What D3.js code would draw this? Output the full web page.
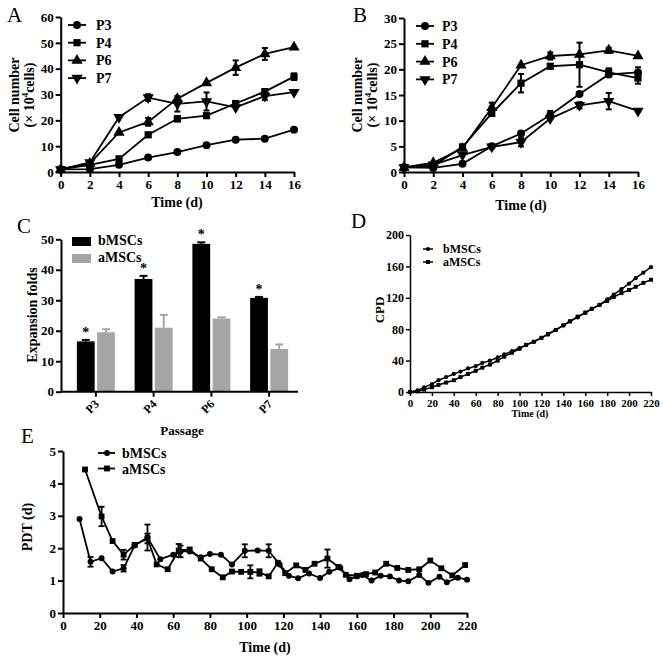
<!DOCTYPE html>
<html><head><meta charset="utf-8">
<script src="https://cdn.jsdelivr.net/npm/d3@7"></script>
<style>
body{margin:0;background:#fff;}
svg{display:block;}
text{font-family:"Liberation Serif","Times New Roman",serif;}
</style></head>
<body><svg id="c" width="663" height="669"></svg>
<script>
// ---------- DATA ----------
const timeAB = [0,2,4,6,8,10,12,14,16];
const seriesNames = ["P3","P4","P6","P7"];
// Panel A (cell number x10^4)
const aP3 = [1,1.1,2.8,5.6,7.7,10.4,12.5,12.9,16.4];
const aP4 = [1,2.8,5.1,14.4,20.6,21.8,26.5,31.1,36.9];
const aP6 = [1,3.3,15.3,19.4,28.4,34.5,40.4,45.7,48.3];
const aP7 = [1,3.7,21.2,28.8,26.4,27.3,25.0,29.4,30.9];
const aP3err = [0,0,0,0,0,0,0,0,0];
const aP4err = [0,0,0,0,1.0,0,0.8,1.0,1.3];
const aP6err = [0,0,0,1.5,0,0,2.8,2.3,0];
const aP7err = [0,0,0,1.3,3.0,3.5,0,1.5,0];
// Panel B
const bP3 = [0.9,0.8,1.6,5.0,7.5,11.1,15.2,19.0,19.4];
const bP4 = [0.9,1.2,4.9,11.4,17.3,20.6,20.9,19.4,18.3];
const bP6 = [0.9,1.8,4.6,12.5,20.8,22.6,22.9,23.7,22.6];
const bP7 = [0.9,1.4,3.3,4.9,5.8,10.4,13.0,13.8,11.9];
const bP3err = [0,0,0,0,0,0.8,0,0,1.0];
const bP4err = [0,0,0,0,1.8,0,4.3,0.8,1.1];
const bP6err = [0,0,0,1.0,0,0.7,0,0.5,0];
const bP7err = [0,0,0,0,0.8,0,0.6,1.6,0];
// Panel C
const passages = ["P3","P4","P6","P7"];
const cellTypes = ["bMSCs","aMSCs"];
const foldB = [16.5,37.0,48.5,30.8];
const foldA = [19.5,21.0,24.0,14.0];
const foldBerr = [0.5,1.0,0.5,0.3];
const foldAerr = [1.0,4.2,0.4,1.5];
const starFlags = [1,1,1,1];
// Panel D (CPD)
const cpdTime = [0,7,13,20,26,33,40,46,53,60,66,73,80,86,93,100,106,113,120,126,133,140,146,153,160,166,173,180,186,193,200,206,213,220];
const cpdB = [0,2,6,10,15,19,23,26,30,33,37,40,44,48,52,56,60,64,69,73,79,85,90,95,101,106,111,118,124,131,138,145,152,159];
const cpdA = [0,1,3,6,9,12,15,19,23,27,31,35,40,45,50,55,60,64,69,74,79,85,90,96,101,106,111,116,121,126,130,134,139,143];
// Panel E (PDT)
const pdtTimeB = [9,15,21,27,33,39,46,53,60,64,69,75,80,86,92,99,106,112,118,123,128,134,140,145,151,156,160,163,168,173,178,183,188,194,199,205,209,215,220];
const pdtB = [2.9,1.58,1.69,1.28,1.38,2.08,2.33,1.66,1.8,1.9,1.9,1.72,1.82,1.8,1.5,1.92,1.93,1.92,1.5,1.15,1.07,1.22,1.08,1.27,1.4,1.04,1.13,1.17,1.0,1.15,1.13,1.0,0.98,1.17,0.93,1.12,0.95,1.09,1.03];
const pdtBerr = [0,0.15,0,0,0.1,0,0.4,0,0,0.18,0,0,0,0,0,0.2,0,0.2,0,0,0,0,0,0,0,0,0,0,0,0,0,0,0,0,0,0,0,0,0];
const pdtTimeA = [12,21,27,33,39,46,51,57,63,69,75,81,87,92,97,102,107,112,117,121,127,132,137,144,150,154,160,165,170,176,182,188,194,200,206,212,219];
const pdtA = [4.43,2.98,2.22,1.8,2.1,2.3,1.5,1.35,1.93,1.96,1.68,1.35,1.1,1.28,1.27,1.27,1.25,1.13,1.55,1.23,1.47,1.33,1.52,1.68,1.42,1.18,1.15,1.2,1.25,1.52,1.39,1.33,1.35,1.62,1.38,1.16,1.48];
const pdtAerr = [0,0.3,0,0.15,0,0.15,0,0,0.2,0,0,0,0,0,0,0.2,0.1,0,0,0,0,0,0,0.28,0,0,0,0,0,0,0,0,0,0,0,0,0];

// ---------- DRAW ----------
const svg = d3.select("#c");
svg.append("rect").attr("width",663).attr("height",669).attr("fill","#fff");
const FONT = '"Liberation Serif","Times New Roman",serif';

function styleAxis(g, sw, fs){
  g.selectAll("path.domain").attr("stroke","#000").attr("stroke-width",sw);
  g.selectAll(".tick line").attr("stroke","#000").attr("stroke-width",sw);
  g.selectAll(".tick text").attr("fill","#000").attr("font-family",FONT)
    .attr("font-weight","bold").attr("font-size",fs);
}
function sym(type,size){
  const t = {circle:d3.symbolCircle,square:d3.symbolSquare,triangle:d3.symbolTriangle,down:d3.symbolTriangle}[type];
  return d3.symbol().type(t).size(size)();
}
function marker(g,type,x,y,size){
  g.append("path").attr("d",sym(type,size))
   .attr("transform",`translate(${x},${y})`+(type==="down"?" rotate(180)":""))
   .attr("fill","#000");
}
function errBar(g,x,y0,y1,cap,sw){
  g.append("line").attr("x1",x).attr("x2",x).attr("y1",y0).attr("y2",y1).attr("stroke","#000").attr("stroke-width",sw);
  [y0,y1].forEach(yy=>g.append("line").attr("x1",x-cap).attr("x2",x+cap).attr("y1",yy).attr("y2",yy).attr("stroke","#000").attr("stroke-width",sw));
}
function text(g,x,y,s,fs,opts={}){
  const t=g.append("text").attr("x",x).attr("y",y).attr("font-family",FONT)
   .attr("font-size",fs).attr("font-weight",opts.weight||"bold").attr("fill","#000")
   .attr("text-anchor",opts.anchor||"start");
  if(opts.rotate) t.attr("transform",`rotate(${opts.rotate},${x},${y})`);
  t.text(s);
  return t;
}
function cellLabel(g,x,cy){
  const t=g.append("text").attr("x",x).attr("y",cy).attr("font-family",FONT)
    .attr("font-size",14).attr("font-weight","bold").attr("text-anchor","middle")
    .attr("transform",`rotate(-90,${x},${cy})`);
  t.append("tspan").text("(× 10");
  t.append("tspan").attr("font-size",9).attr("dy",-6).text("4");
  t.append("tspan").attr("dy",6).text("cells)");
}

// --- growth panels A & B ---
function growthPanel(cfg){
  const g = svg.append("g");
  const x = d3.scaleLinear().domain([0,16]).range(cfg.xr);
  const y = d3.scaleLinear().domain([0,cfg.ymax]).range(cfg.yr);
  const ax = g.append("g").attr("transform",`translate(0,${cfg.yr[0]})`)
    .call(d3.axisBottom(x).tickValues(timeAB).tickSize(5).tickSizeOuter(0).tickPadding(3));
  styleAxis(ax,2,13);
  const ay = g.append("g").attr("transform",`translate(${cfg.xr[0]},0)`)
    .call(d3.axisLeft(y).tickValues(d3.range(0,cfg.ymax+1,cfg.ystep)).tickFormat(d3.format("d")).tickSize(5).tickSizeOuter(0).tickPadding(2));
  styleAxis(ay,2,13);
  const types=["circle","square","triangle","down"];
  const sizes=[50,52,55,55];
  const line = d3.line().x((d,i)=>x(timeAB[i])).y(d=>y(d));
  cfg.data.forEach((vals,k)=>{
    g.append("path").attr("d",line(vals)).attr("fill","none").attr("stroke","#000").attr("stroke-width",1.8);
    vals.forEach((v,i)=>{
      const e=cfg.err[k][i];
      if(e>0) errBar(g,x(timeAB[i]),y(v-e),y(v+e),3,2);
      marker(g,types[k],x(timeAB[i]),y(v),sizes[k]);
    });
  });
  seriesNames.forEach((n,k)=>{
    const yy = cfg.leg[1]+k*cfg.leg[3];
    g.append("line").attr("x1",cfg.leg[0]-9).attr("x2",cfg.leg[0]+9).attr("y1",yy).attr("y2",yy).attr("stroke","#000").attr("stroke-width",1.8);
    marker(g,types[k],cfg.leg[0],yy,sizes[k]);
    text(g,cfg.leg[2],yy+5,n,14);
  });
  text(g,cfg.ylab[0],cfg.ylab[2],"Cell number",14,{anchor:"middle",rotate:-90});
  cellLabel(g,cfg.ylab[1],cfg.ylab[2]);
  text(g,cfg.xlab[0],cfg.xlab[1],"Time (d)",14,{anchor:"middle"});
  text(g,cfg.letter[0],cfg.letter[1],cfg.letter[2],21,{weight:"normal"});
}
growthPanel({xr:[60.7,294],yr:[172,17],ymax:60,ystep:10,data:[aP3,aP4,aP6,aP7],err:[aP3err,aP4err,aP6err,aP7err],
  leg:[77,25,96,17.7],ylab:[19,34,95],xlab:[177,207],letter:[7,22,"A"]});
growthPanel({xr:[404,638],yr:[172,18],ymax:30,ystep:5,data:[bP3,bP4,bP6,bP7],err:[bP3err,bP4err,bP6err,bP7err],
  leg:[425,26,442,17.8],ylab:[362,377,95],xlab:[521,210],letter:[353,22,"B"]});

// --- Panel C ---
(function(){
  const g = svg.append("g");
  const x = d3.scaleBand().domain(passages).range([67,298]).paddingInner(0).paddingOuter(0);
  const xs = d3.scaleBand().domain(cellTypes).range([0,38]).paddingInner(0.12);
  const y = d3.scaleLinear().domain([0,50]).range([391.7,239.3]);
  const color = {bMSCs:"#000",aMSCs:"#a5a5a5"};
  passages.forEach((p,i)=>{
    const gx = x(p)+x.bandwidth()/2-19;
    [[ "bMSCs",foldB[i],foldBerr[i]],["aMSCs",foldA[i],foldAerr[i]]].forEach(([c,v,e])=>{
      const bx = gx+xs(c), bw = xs.bandwidth();
      g.append("line").attr("x1",bx+bw/2).attr("x2",bx+bw/2).attr("y1",y(v)).attr("y2",y(v+e)).attr("stroke",color[c]).attr("stroke-width",2);
      g.append("line").attr("x1",bx+bw/2-4).attr("x2",bx+bw/2+4).attr("y1",y(v+e)).attr("y2",y(v+e)).attr("stroke",color[c]).attr("stroke-width",2);
      g.append("rect").attr("x",bx).attr("y",y(v)).attr("width",bw).attr("height",y(0)-y(v)).attr("fill",color[c]);
      if(c==="bMSCs" && starFlags[i]) text(g,bx+bw/2,y(v+e)-3,"*",14,{anchor:"middle"});
    });
  });
  const ax = g.append("g").attr("transform","translate(0,391.7)")
    .call(d3.axisBottom(x).tickSize(5).tickSizeOuter(0).tickPadding(3));
  styleAxis(ax,2,12);
  ax.select("path.domain").attr("d","M61,0H298");
  ax.selectAll(".tick text").attr("text-anchor","end").attr("dy",null).attr("x",0).attr("y",0)
    .attr("transform","translate(4,13) rotate(-45)");
  const ay = g.append("g").attr("transform","translate(61,0)")
    .call(d3.axisLeft(y).tickValues(d3.range(0,51,10)).tickSize(5).tickSizeOuter(0).tickPadding(2));
  styleAxis(ay,2,13);
  cellTypes.forEach((c,k)=>{
    const yy = 237+k*17;
    g.append("rect").attr("x",72).attr("y",yy).attr("width",19).attr("height",9).attr("fill",color[c]);
    text(g,98,yy+8,c,14);
  });
  text(g,37,315,"Expansion folds",14,{anchor:"middle",rotate:-90});
  text(g,182,435,"Passage",13,{anchor:"middle"});
  text(g,17,233,"C",21,{weight:"normal"});
})();

// --- Panel D ---
(function(){
  const g = svg.append("g");
  const x = d3.scaleLinear().domain([0,220]).range([410,651]);
  const y = d3.scaleLinear().domain([0,200]).range([392,235]);
  const line = d3.line().x((d,i)=>x(cpdTime[i])).y(d=>y(d));
  g.append("path").attr("d",line(cpdA)).attr("fill","none").attr("stroke","#000").attr("stroke-width",1.5);
  g.append("path").attr("d",line(cpdB)).attr("fill","none").attr("stroke","#000").attr("stroke-width",1.5);
  cpdB.forEach((v,i)=>marker(g,"circle",x(cpdTime[i]),y(v),14));
  cpdA.forEach((v,i)=>marker(g,"square",x(cpdTime[i]),y(v),16));
  const ax = g.append("g").attr("transform","translate(0,392)")
    .call(d3.axisBottom(x).tickValues(d3.range(0,221,20)).tickSize(4).tickSizeOuter(0).tickPadding(3));
  styleAxis(ax,1.5,11);
  const ay = g.append("g").attr("transform","translate(410,0)")
    .call(d3.axisLeft(y).tickValues(d3.range(0,201,40)).tickSize(4).tickSizeOuter(0).tickPadding(2));
  styleAxis(ay,1.5,12);
  [["bMSCs","circle",14],["aMSCs","square",16]].forEach(([n,t,s],k)=>{
    const yy=249+k*13;
    g.append("line").attr("x1",423).attr("x2",433).attr("y1",yy).attr("y2",yy).attr("stroke","#000").attr("stroke-width",1.5);
    marker(g,t,428,yy,s);
    text(g,443,yy+4,n,12);
  });
  text(g,384,310,"CPD",13,{anchor:"middle",rotate:-90});
  text(g,530,417,"Time (d)",10,{anchor:"middle"});
  text(g,351,228,"D",21,{weight:"normal"});
})();

// --- Panel E ---
(function(){
  const g = svg.append("g");
  const x = d3.scaleLinear().domain([0,220]).range([63,467]);
  const y = d3.scaleLinear().domain([0,5]).range([613,451]);
  const lineB = d3.line().x((d,i)=>x(pdtTimeB[i])).y(d=>y(d));
  const lineA = d3.line().x((d,i)=>x(pdtTimeA[i])).y(d=>y(d));
  g.append("path").attr("d",lineB(pdtB)).attr("fill","none").attr("stroke","#000").attr("stroke-width",1.8);
  g.append("path").attr("d",lineA(pdtA)).attr("fill","none").attr("stroke","#000").attr("stroke-width",1.8);
  pdtB.forEach((v,i)=>{ if(pdtBerr[i]>0) errBar(g,x(pdtTimeB[i]),y(v-pdtBerr[i]),y(v+pdtBerr[i]),3,1.8); marker(g,"circle",x(pdtTimeB[i]),y(v),28);});
  pdtA.forEach((v,i)=>{ if(pdtAerr[i]>0) errBar(g,x(pdtTimeA[i]),y(v-pdtAerr[i]),y(v+pdtAerr[i]),3,1.8); marker(g,"square",x(pdtTimeA[i]),y(v),34);});
  const ax = g.append("g").attr("transform","translate(0,613)")
    .call(d3.axisBottom(x).tickValues(d3.range(0,221,20)).tickSize(5).tickSizeOuter(0).tickPadding(3));
  styleAxis(ax,2,13);
  const ay = g.append("g").attr("transform","translate(63,0)")
    .call(d3.axisLeft(y).tickValues(d3.range(0,6,1)).tickFormat(d3.format("d")).tickSize(5).tickSizeOuter(0).tickPadding(2));
  styleAxis(ay,2,13);
  [["bMSCs","circle",28],["aMSCs","square",34]].forEach(([n,t,s],k)=>{
    const yy=453+k*15.5;
    g.append("line").attr("x1",98).attr("x2",115).attr("y1",yy).attr("y2",yy).attr("stroke","#000").attr("stroke-width",1.8);
    marker(g,t,107,yy,s);
    text(g,122,yy+5,n,14);
  });
  text(g,32,527,"PDT (d)",14,{anchor:"middle",rotate:-90});
  text(g,265,652,"Time (d)",14,{anchor:"middle"});
  text(g,21,443,"E",21,{weight:"normal"});
})();
</script></body></html>
